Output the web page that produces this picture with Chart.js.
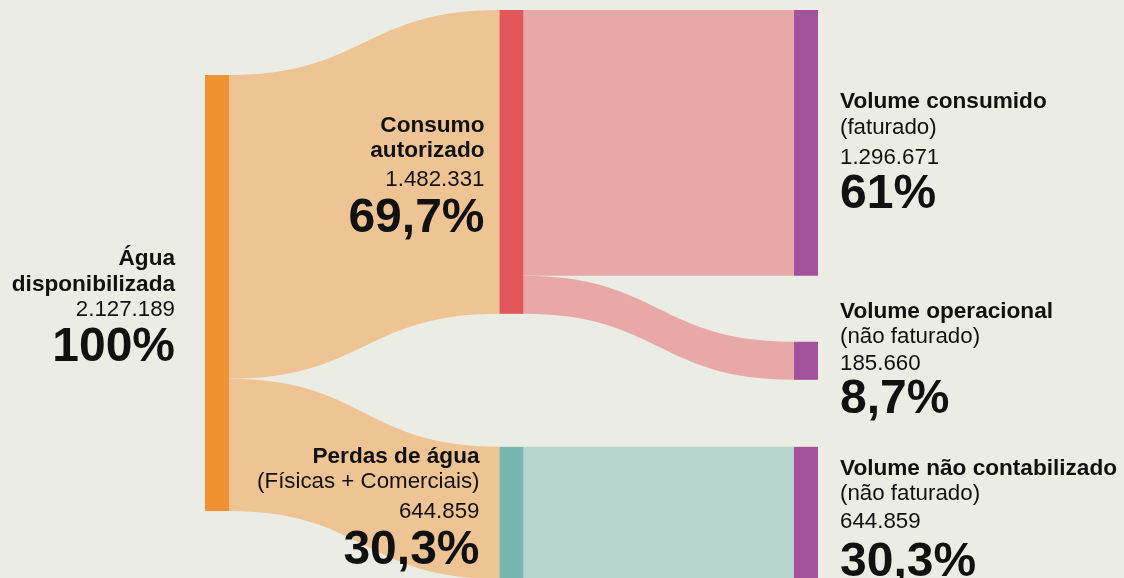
<!DOCTYPE html>
<html>
<head>
<meta charset="utf-8">
<script src="https://cdn.jsdelivr.net/npm/chart.js@4.4.1/dist/chart.umd.min.js"></script>
<style>
  html, body { margin: 0; padding: 0; background: #ebece3; }
  #wrap { width: 1124px; height: 578px; }
</style>
</head>
<body>
<div id="wrap"><canvas id="myChart" width="1124" height="578"></canvas></div>
<script>
// data
const nodeNames = [
  ["Água", "disponibilizada"],
  ["Consumo", "autorizado"],
  ["Perdas de água", "(Físicas + Comerciais)"],
  ["Volume consumido", "(faturado)"],
  ["Volume operacional", "(não faturado)"],
  ["Volume não contabilizado", "(não faturado)"],
];
const nodeValues = [2127189, 1482331, 644859, 1296671, 185660, 644859];
const valueLabels = ["2.127.189", "1.482.331", "644.859", "1.296.671", "185.660", "644.859"];
const percentLabels = ["100%", "69,7%", "30,3%", "61%", "8,7%", "30,3%"];
const nodeColumn = [0, 1, 1, 2, 2, 2];

const linkFrom = [0, 0, 1, 1, 2];
const linkTo = [1, 2, 3, 4, 5];
const linkValues = [1482331, 644859, 1296671, 185660, 644859];

// layout (in y-scale units)
const colTop = [366000, 48800, 48800];
const colGap = [[], [649000], [322000, 327000]];

const nodeColors = ["#f2912f", "#e05859", "#78b6b0", "#a4529e", "#a4529e", "#a4529e"];
const linkColors = ["#efc494", "#efc494", "#e8a8a7", "#e8a8a7", "#b5d5ce"];
const nodeW = 24;

// label placement: first baseline offset from node centre, x offset, and line gaps
const labelPos = [
  { dy: -28, dx: -30, boldLines: 2, gaps: [26, 25, 45] },
  { dy: -30, dx: -15, boldLines: 2, gaps: [25, 29, 46] },
  { dy: -50, dx: -20, boldLines: 1, gaps: [25, 30, 46] },
  { dy: -35, dx: 22, boldLines: 1, gaps: [26, 30, 44] },
  { dy: -43, dx: 22, boldLines: 1, gaps: [25, 27, 43] },
  { dy: -38, dx: 22, boldLines: 1, gaps: [25, 28, 48] },
];

// work out where each node starts on the y axis
const nodeStart = [];
const colCursor = colTop.slice();
const colCount = [0, 0, 0];
nodeValues.forEach((v, i) => {
  const c = nodeColumn[i];
  if (colCount[c] > 0) colCursor[c] += colGap[c][colCount[c] - 1];
  nodeStart[i] = colCursor[c];
  colCursor[c] += v;
  colCount[c]++;
});

const sankeyPlugin = {
  id: "sankey",
  beforeDraw(chart) {
    const c = chart.ctx;
    c.save();
    c.fillStyle = "#ebece3";
    c.fillRect(0, 0, chart.width, chart.height);
    c.restore();
  },
  afterDatasetsDraw(chart) {
    const c = chart.ctx;
    const xs = chart.scales.x;
    const ys = chart.scales.y;
    const left = (i) => xs.getPixelForValue(nodeColumn[i]);
    const outUsed = nodeValues.map(() => 0);
    const inUsed = nodeValues.map(() => 0);

    //links first
    linkValues.forEach((v, k) => {
      const s = linkFrom[k];
      const t = linkTo[k];
      const x0 = left(s) + nodeW;
      const x1 = left(t);
      const sy0 = ys.getPixelForValue(nodeStart[s] + outUsed[s]);
      const sy1 = ys.getPixelForValue(nodeStart[s] + outUsed[s] + v);
      const ty0 = ys.getPixelForValue(nodeStart[t] + inUsed[t]);
      const ty1 = ys.getPixelForValue(nodeStart[t] + inUsed[t] + v);
      outUsed[s] += v;
      inUsed[t] += v;
      const xm = (x0 + x1) / 2;
      c.beginPath();
      c.moveTo(x0, sy0);
      c.bezierCurveTo(xm, sy0, xm, ty0, x1, ty0);
      c.lineTo(x1, ty1);
      c.bezierCurveTo(xm, ty1, xm, sy1, x0, sy1);
      c.closePath();
      c.fillStyle = linkColors[k];
      c.fill();
    });

    // nodes
    nodeValues.forEach((v, i) => {
      const y0 = ys.getPixelForValue(nodeStart[i]);
      const y1 = ys.getPixelForValue(nodeStart[i] + v);
      c.fillStyle = nodeColors[i];
      c.fillRect(left(i), y0, nodeW, y1 - y0);
    });

    // labels
    c.fillStyle = "#111";
    c.textBaseline = "alphabetic";
    nodeValues.forEach((v, i) => {
      const p = labelPos[i];
      const y0 = ys.getPixelForValue(nodeStart[i]);
      const y1 = ys.getPixelForValue(nodeStart[i] + v);
      const mid = (y0 + y1) / 2;
      const x = p.dx < 0 ? left(i) + p.dx : left(i) + nodeW + p.dx;
      c.textAlign = p.dx < 0 ? "right" : "left";
      let y = mid + p.dy;
      const lines = [...nodeNames[i], valueLabels[i], percentLabels[i]];
      lines.forEach((txt, j) => {
        if (j < p.boldLines) c.font = 'bold 22.6px "Liberation Sans", Arial, sans-serif';
        else if (j === lines.length - 1) c.font = 'bold 48px "Liberation Sans", Arial, sans-serif';
        else c.font = '22.3px "Liberation Sans", Arial, sans-serif';
        c.fillText(txt, x, y);
        if (j < p.gaps.length) y += p.gaps[j];
      });
    });
  },
};

const ctx = document.getElementById("myChart");
const myChart = new Chart(ctx, {
  type: "scatter",
  data: {
    datasets: [
      {
        data: nodeValues.map((v, i) => ({ x: nodeColumn[i], y: nodeStart[i] + v / 2 })),
        pointRadius: 0,
      },
    ],
  },
  options: {
    responsive: false,
    animation: false,
    events: [],
    layout: { padding: 0 },
    scales: {
      x: { type: "linear", min: -205 / 294.5, max: (1124 - 205) / 294.5, display: false },
      y: { type: "linear", min: 0, max: 2820000, reverse: true, display: false },
    },
    plugins: {
      legend: { display: false },
      tooltip: { enabled: false },
    },
  },
  plugins: [sankeyPlugin],
});
</script>
</body>
</html>
